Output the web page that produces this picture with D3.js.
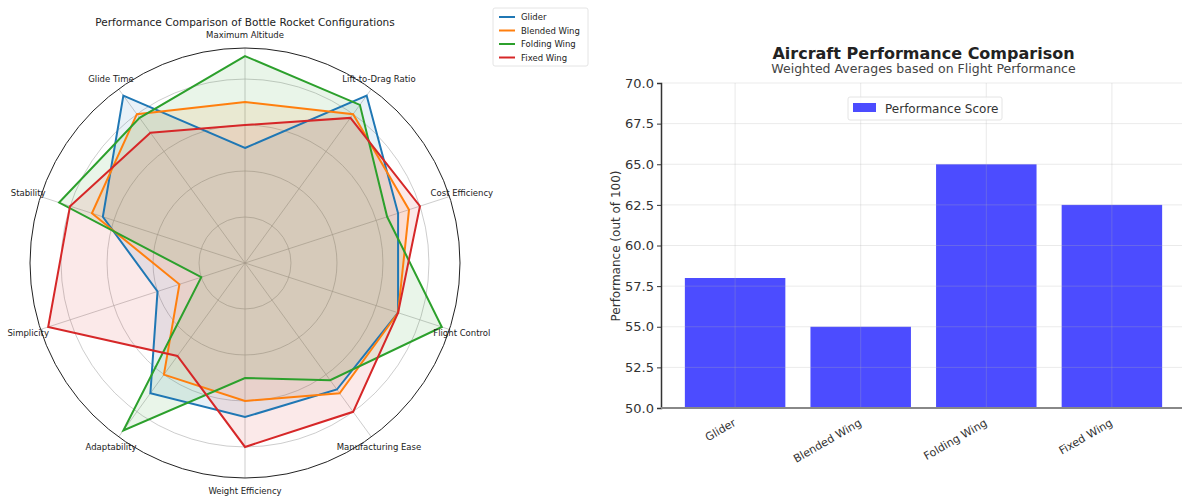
<!DOCTYPE html>
<html>
<head>
<meta charset="utf-8">
<script src="https://cdn.jsdelivr.net/npm/d3@7"></script>
<style>
  html, body { margin: 0; padding: 0; background: #fff; }
  svg { display: block; font-family: "DejaVu Sans", sans-serif; }
</style>
</head>
<body>
<svg id="chart" width="1182" height="497"></svg>
<script>
// ---- Radar chart data ----
const radarCategories = [
  "Maximum Altitude", "Lift-to-Drag Ratio", "Cost Efficiency", "Flight Control",
  "Manufacturing Ease", "Weight Efficiency", "Adaptability", "Simplicity",
  "Stability", "Glide Time"
];
const radarSeriesNames = ["Glider", "Blended Wing", "Folding Wing", "Fixed Wing"];
const gliderScores   = [5, 9, 7, 7, 6.8, 6.7, 7, 4, 6.5, 9];
const blendedScores  = [7, 8, 7.5, 7, 7, 6, 6, 3, 7, 8];
const foldingScores  = [9, 8.5, 6.5, 9, 6.3, 5, 9, 2, 8.5, 7.8];
const fixedScores    = [6, 7.8, 8, 7, 8, 8, 5, 9, 8, 7];
const radarGridTicks = [2, 4, 6, 8];
const radarMax = 9.35;

// ---- Bar chart data ----
const barCategories = ["Glider", "Blended Wing", "Folding Wing", "Fixed Wing"];
const performanceScores = [58, 55, 65, 62.5];
const barYTicks = [50, 52.5, 55, 57.5, 60, 62.5, 65, 67.5, 70];

const svg = d3.select("#chart");
const colors = ["#1f77b4", "#ff7f0e", "#2ca02c", "#d62728"];
const radarSeries = [gliderScores, blendedScores, foldingScores, fixedScores];

// =================== Radar ===================
const cx = 245, cy = 263, R = 215;
const rScale = d3.scaleLinear().domain([0, radarMax]).range([0, R]);
const angle = d3.scaleLinear().domain([0, radarCategories.length]).range([0, 2 * Math.PI]);
const radar = svg.append("g").attr("transform", `translate(${cx},${cy})`);

// grid circles
radar.selectAll("circle.grid").data(radarGridTicks).join("circle")
  .attr("r", d => rScale(d)).attr("fill", "none")
  .attr("stroke", "#b0b0b0").attr("stroke-opacity", 0.7).attr("stroke-width", 0.9);
// spokes
radar.selectAll("line.spoke").data(radarCategories).join("line")
  .attr("x1", 0).attr("y1", 0)
  .attr("x2", (d, i) => R * Math.sin(angle(i)))
  .attr("y2", (d, i) => -R * Math.cos(angle(i)))
  .attr("stroke", "#b0b0b0").attr("stroke-opacity", 0.7).attr("stroke-width", 0.9);

const radial = d3.lineRadial()
  .angle((d, i) => angle(i))
  .radius(d => rScale(d))
  .curve(d3.curveLinearClosed);

// fills
radar.selectAll("path.area").data(radarSeries).join("path")
  .attr("d", d => radial(d))
  .attr("fill", (d, i) => colors[i]).attr("fill-opacity", 0.1).attr("stroke", "none");
// outlines
radar.selectAll("path.outline").data(radarSeries).join("path")
  .attr("d", d => radial(d))
  .attr("fill", "none").attr("stroke", (d, i) => colors[i])
  .attr("stroke-width", 2).attr("stroke-linejoin", "miter");

// outer frame
radar.append("circle").attr("r", R).attr("fill", "none")
  .attr("stroke", "#222").attr("stroke-width", 1);

// category labels
radar.selectAll("text.cat").data(radarCategories).join("text")
  .attr("x", (d, i) => 228 * Math.sin(angle(i)))
  .attr("y", (d, i) => -228 * Math.cos(angle(i)))
  .attr("text-anchor", "middle").attr("dominant-baseline", "central")
  .attr("font-size", 8.5).attr("fill", "#222")
  .text(d => d);

svg.append("text").attr("x", 245).attr("y", 22)
  .attr("text-anchor", "middle").attr("dominant-baseline", "central")
  .attr("font-size", 10.5).attr("fill", "#222")
  .text("Performance Comparison of Bottle Rocket Configurations");

// radar legend
const rl = svg.append("g").attr("transform", "translate(493,8)");
rl.append("rect").attr("width", 95).attr("height", 58).attr("rx", 2)
  .attr("fill", "#fff").attr("stroke", "#ddd").attr("stroke-width", 0.8);
radarSeriesNames.forEach((name, i) => {
  const y = 9 + i * 13.5;
  rl.append("line").attr("x1", 6).attr("x2", 22).attr("y1", y).attr("y2", y)
    .attr("stroke", colors[i]).attr("stroke-width", 2);
  rl.append("text").attr("x", 28).attr("y", y).attr("dominant-baseline", "central")
    .attr("font-size", 8.5).attr("fill", "#222").text(name);
});

// =================== Bar chart ===================
const x = d3.scaleLinear().domain([-0.59, 3.59]).range([661, 1186]);
const y = d3.scaleLinear().domain([50, 70]).range([408, 83]);
const barHalf = 0.4;

const bars = svg.append("g");
bars.selectAll("rect").data(performanceScores).join("rect")
  .attr("x", (d, i) => x(i - barHalf))
  .attr("width", (d, i) => x(i + barHalf) - x(i - barHalf))
  .attr("y", d => y(d))
  .attr("height", d => y(50) - y(d))
  .attr("fill", "#0000ff").attr("fill-opacity", 0.7);

// grid on top of bars
const grid = svg.append("g");
grid.selectAll("line.h").data(barYTicks).join("line")
  .attr("x1", 661).attr("x2", 1186)
  .attr("y1", d => y(d)).attr("y2", d => y(d))
  .attr("stroke", "#b0b0b0").attr("stroke-opacity", 0.3).attr("stroke-width", 0.9);
grid.selectAll("line.v").data(barCategories).join("line")
  .attr("x1", (d, i) => x(i)).attr("x2", (d, i) => x(i))
  .attr("y1", 83).attr("y2", 408)
  .attr("stroke", "#b0b0b0").attr("stroke-opacity", 0.3).attr("stroke-width", 0.9);

// y axis
const yAxis = d3.axisLeft(y).tickValues(barYTicks).tickFormat(d3.format(".1f")).tickSize(4).tickPadding(3);
const yg = svg.append("g").attr("transform", "translate(661,0)").call(yAxis);
yg.select(".domain").attr("stroke", "#333").attr("stroke-width", 1.5);
yg.selectAll(".tick line").attr("stroke", "#333");
yg.selectAll(".tick text").attr("font-size", 13).attr("fill", "#333")
  .attr("font-family", "DejaVu Sans, sans-serif");

// x axis
const xAxis = d3.axisBottom(x).tickValues(d3.range(barCategories.length))
  .tickFormat(i => barCategories[i]).tickSize(0).tickPadding(0);
const xg = svg.append("g").attr("transform", "translate(0,408)").call(xAxis);
xg.select(".domain").attr("stroke", "#888").attr("stroke-width", 2)
  .attr("d", "M661,0H1186");
xg.selectAll(".tick text")
  .attr("font-size", 11).attr("fill", "#333").attr("font-family", "DejaVu Sans, sans-serif")
  .attr("text-anchor", "end").attr("dominant-baseline", "hanging")
  .attr("y", 0).attr("dy", 0)
  .attr("transform", "translate(-3,10) rotate(-30)");

// y label
svg.append("text")
  .attr("transform", "translate(616,246) rotate(-90)")
  .attr("text-anchor", "middle").attr("dominant-baseline", "central")
  .attr("font-size", 12).attr("fill", "#333")
  .text("Performance (out of 100)");

// titles
svg.append("text").attr("x", 923.5).attr("y", 53)
  .attr("text-anchor", "middle").attr("dominant-baseline", "central")
  .attr("font-size", 16).attr("font-weight", "bold").attr("fill", "#222")
  .text("Aircraft Performance Comparison");
svg.append("text").attr("x", 923.5).attr("y", 68)
  .attr("text-anchor", "middle").attr("dominant-baseline", "central")
  .attr("font-size", 12.5).attr("fill", "#444")
  .text("Weighted Averages based on Flight Performance");

// bar legend
const bl = svg.append("g").attr("transform", "translate(848,97)");
bl.append("rect").attr("width", 154).attr("height", 23).attr("rx", 2)
  .attr("fill", "#fff").attr("fill-opacity", 0.8).attr("stroke", "#ddd").attr("stroke-width", 0.8);
bl.append("rect").attr("x", 5).attr("y", 6).attr("width", 23).attr("height", 9)
  .attr("fill", "#0000ff").attr("fill-opacity", 0.7);
bl.append("text").attr("x", 37).attr("y", 11.5).attr("dominant-baseline", "central")
  .attr("font-size", 12).attr("fill", "#333").text("Performance Score");
</script>
</body>
</html>
